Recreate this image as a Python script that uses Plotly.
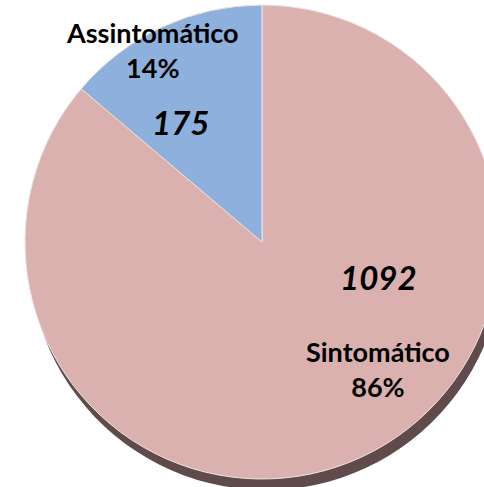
import plotly.graph_objects as go

labels = ["Sintomático", "Assintomático"]
values = [1092, 175]
colors = ["#DBB1AF", "#8DB0DC"]
shadow_color = "#5F4B4B"

W, H = 512, 504
cx, cy, r = 262, 242, 237
sdx, sdy = 4, 11

def dom(cx, cy, r):
    return dict(x=[(cx - r) / W, (cx + r) / W], y=[(H - cy - r) / H, (H - cy + r) / H])

fig = go.Figure()
# shadow (3D extrusion)
fig.add_trace(go.Pie(
    labels=labels, values=values, sort=False, direction="clockwise",
    rotation=0, textinfo="none", hoverinfo="skip",
    marker=dict(colors=[shadow_color, shadow_color], line=dict(width=0)),
    domain=dom(cx + sdx, cy + sdy, r), showlegend=False,
))
fig.add_trace(go.Pie(
    labels=labels, values=values, sort=False, direction="clockwise",
    rotation=0, textinfo="none", hoverinfo="skip",
    marker=dict(colors=colors, line=dict(color="#EFE3E3", width=1)),
    domain=dom(cx, cy, r), showlegend=False,
))

total = sum(values)
pct = [round(v / total * 100) for v in values]
font = "Lato, 'Open Sans', sans-serif"

# label/percent positions (pixels from top-left)
label_pos = [(378, 369), (152, 50)]
value_pos = [(378, 277), (180, 122)]

ann = []
for i in range(2):
    lx, ly = label_pos[i]
    ann.append(dict(x=lx / W, y=1 - ly / H, xref="paper", yref="paper", showarrow=False,
                    xanchor="center", yanchor="middle",
                    text=f"<b>{labels[i]}</b><br><b>{pct[i]}%</b>",
                    font=dict(family=font, size=27, color="black"), align="center"))
    vx, vy = value_pos[i]
    ann.append(dict(x=vx / W, y=1 - vy / H, xref="paper", yref="paper", showarrow=False,
                    xanchor="center", yanchor="middle",
                    text=f"<b><i>{values[i]}</i></b>",
                    font=dict(family=font, size=33, color="black"), align="center"))

fig.update_layout(
    width=W, height=H, margin=dict(l=0, r=0, t=0, b=0),
    paper_bgcolor="white", plot_bgcolor="white",
    annotations=ann, showlegend=False,
)

fig.write_html("out.html", config={"displayModeBar": False},
               post_script="document.body.style.margin='0';document.body.style.overflow='hidden';document.documentElement.style.overflow='hidden';")
